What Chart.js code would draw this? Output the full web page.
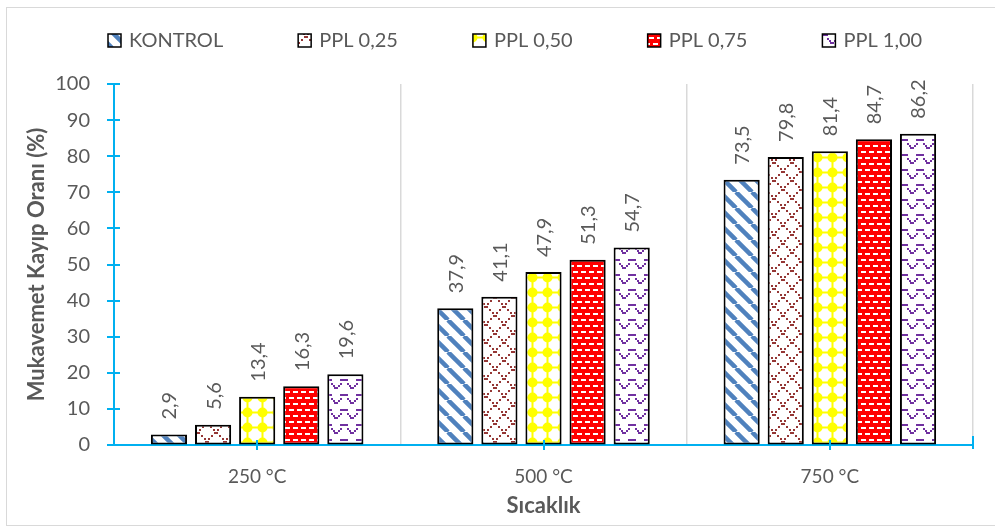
<!DOCTYPE html>
<html>
<head>
<meta charset="utf-8">
<script src="https://cdn.jsdelivr.net/npm/chart.js@4.4.1/dist/chart.umd.min.js"></script>
<style>
  html, body { margin: 0; padding: 0; background: #fff; }
  canvas { display: block; }
</style>
</head>
<body>
<canvas id="kayip" width="995" height="527"></canvas>
<script>
var sicaklik = ["250 °C", "500 °C", "750 °C"];
var kontrol = [2.9, 37.9, 73.5];
var ppl025 = [5.6, 41.1, 79.8];
var ppl050 = [13.4, 47.9, 81.4];
var ppl075 = [16.3, 51.3, 84.7];
var ppl100 = [19.6, 54.7, 86.2];
var yTicks = [0, 10, 20, 30, 40, 50, 60, 70, 80, 90, 100];

var textGray = "#595959";
var axisBlue = "#00b0f0";
var fontName = "Lato";

// small tiles used as fill patterns for the bars
function tile(w, h, draw) {
  var c = document.createElement("canvas");
  c.width = w; c.height = h;
  var g = c.getContext("2d");
  draw(g, w, h);
  return document.getElementById("kayip").getContext("2d").createPattern(c, "repeat");
}

var patStripes = tile(16, 16, function (g, w, h) {
  g.fillStyle = "#fff"; g.fillRect(0, 0, w, h);
  g.strokeStyle = "#4f81bd"; g.lineWidth = 4.5;
  for (var o = -16; o <= 16; o += 16) {
    g.beginPath(); g.moveTo(o, 0); g.lineTo(o + 16, 16); g.stroke();
  }
});

var patDiamond = tile(18, 18, function (g, w, h) {
  g.fillStyle = "#fff"; g.fillRect(0, 0, w, h);
  g.fillStyle = "#953735";
  for (var i = 0; i < 18; i += 3) {
    g.fillRect(i, i, 2, 2);
    g.fillRect(16 - i, i, 2, 2);
  }
});

var patSphere = tile(15, 15, function (g, w, h) {
  g.fillStyle = "#fff"; g.fillRect(0, 0, w, h);
  g.fillStyle = "#ffff00";
  g.fillRect(0, 6.5, w, 2);
  g.fillRect(6.5, 0, 2, h);
  g.beginPath(); g.arc(7.5, 7.5, 5, 0, Math.PI * 2); g.fill();
});

var patDash = tile(16, 12, function (g, w, h) {
  g.fillStyle = "#ff0000"; g.fillRect(0, 0, w, h);
  g.fillStyle = "#fff";
  g.fillRect(1, 1, 5, 2); g.fillRect(9, 1, 5, 2);
  g.fillRect(5, 7, 5, 2); g.fillRect(13, 7, 3, 2); g.fillRect(0, 7, 2, 2);
});

var patZigzag = tile(16, 15, function (g, w, h) {
  g.fillStyle = "#fff"; g.fillRect(0, 0, w, h);
  g.fillStyle = "#7030a0";
  var pts = [[0, 12], [2, 10], [4, 8], [6, 4], [9, 4], [11, 8], [13, 10], [14, 12]];
  pts.forEach(function (p) { g.fillRect(p[0], p[1], 2, 2); });
  g.fillRect(4, 4, 8, 2);
});

var seriesNames = ["KONTROL", "PPL 0,25", "PPL 0,50", "PPL 0,75", "PPL 1,00"];
var seriesData = [kontrol, ppl025, ppl050, ppl075, ppl100];
var seriesFill = [patStripes, patDiamond, patSphere, patDash, patZigzag];

// value labels written upright above each bar
var barLabels = {
  id: "barLabels",
  afterDatasetsDraw: function (chart) {
    var ctx = chart.ctx;
    ctx.save();
    ctx.font = "20px " + fontName;
    ctx.fillStyle = textGray;
    ctx.textAlign = "left";
    ctx.textBaseline = "middle";
    chart.data.datasets.forEach(function (ds, i) {
      chart.getDatasetMeta(i).data.forEach(function (bar, j) {
        ctx.save();
        ctx.translate(bar.x, bar.y - 15);
        ctx.rotate(-Math.PI / 2);
        ctx.fillText(ds.data[j].toFixed(1).replace(".", ","), 0, 1);
        ctx.restore();
      });
    });
    ctx.restore();
  }
};

// tick marks that cross the axis lines
var crossTicks = {
  id: "crossTicks",
  afterDraw: function (chart) {
    var ctx = chart.ctx, a = chart.chartArea;
    var y = chart.scales.y, x = chart.scales.x;
    ctx.save();
    ctx.strokeStyle = axisBlue;
    ctx.lineWidth = 2;
    ctx.beginPath();
    y.ticks.forEach(function (t) {
      var py = Math.round(y.getPixelForValue(t.value));
      ctx.moveTo(a.left - 7, py); ctx.lineTo(a.left + 6, py);
    });
    x.ticks.forEach(function (t, i) {
      var px = Math.round(x.getPixelForTick(i));
      ctx.moveTo(px, a.bottom - 5); ctx.lineTo(px, a.bottom + 5);
    });
    ctx.moveTo(a.right, a.bottom - 9); ctx.lineTo(a.right, a.bottom + 4);
    ctx.stroke();
    ctx.restore();
  }
};

// legend row and outer frame
var topLegend = {
  id: "topLegend",
  afterDraw: function (chart) {
    var ctx = chart.ctx;
    ctx.save();
    ctx.strokeStyle = "#d9d9d9";
    ctx.lineWidth = 1;
    ctx.strokeRect(6.5, 7.5, 1000, 518);
    ctx.font = "20px " + fontName;
    ctx.textBaseline = "middle";
    var x = 108, cy = 40;
    chart.data.datasets.forEach(function (ds) {
      ctx.fillStyle = ds.backgroundColor;
      ctx.fillRect(x, cy - 6, 13, 13);
      ctx.strokeStyle = "#000";
      ctx.lineWidth = 1.5;
      ctx.strokeRect(x, cy - 6, 13, 13);
      ctx.fillStyle = textGray;
      ctx.fillText(ds.label, x + 21, cy + 1);
      x += 21 + ctx.measureText(ds.label).width + 75;
    });
    ctx.restore();
  }
};

new Chart(document.getElementById("kayip"), {
  type: "bar",
  data: {
    labels: sicaklik,
    datasets: seriesNames.map(function (name, i) {
      return {
        label: name,
        data: seriesData[i],
        backgroundColor: seriesFill[i],
        borderColor: "#000",
        borderWidth: 2,
        borderSkipped: false,
        categoryPercentage: 0.77,
        barPercentage: 0.82
      };
    })
  },
  options: {
    responsive: false,
    animation: false,
    devicePixelRatio: 1,
    layout: { padding: { top: 84, right: 22, bottom: 0, left: 0 } },
    plugins: {
      legend: { display: false },
      tooltip: { enabled: false }
    },
    scales: {
      x: {
        offset: true,
        grid: { offset: true, color: "#d9d9d9", lineWidth: 1.5, drawTicks: false },
        border: { color: axisBlue, width: 2 },
        ticks: { color: textGray, font: { family: fontName, size: 19 }, padding: 20 },
        title: {
          display: true, text: "Sıcaklık", color: textGray,
          font: { family: fontName, size: 22, weight: "bold" }, padding: { top: 0, bottom: 8 }
        },
        afterFit: function (s) { s.height = 82; }
      },
      y: {
        min: 0, max: 100,
        afterBuildTicks: function (s) { s.ticks = yTicks.map(function (v) { return { value: v }; }); },
        grid: { drawOnChartArea: false, drawTicks: false },
        border: { color: axisBlue, width: 2 },
        ticks: { color: textGray, font: { family: fontName, size: 20 }, padding: 24 },
        title: {
          display: true, text: "Mukavemet Kayıp Oranı (%)", color: textGray,
          font: { family: fontName, size: 22, weight: "bold" }, padding: { top: 24, bottom: 0 }
        },
        afterFit: function (s) { s.width = 114; }
      }
    }
  },
  plugins: [barLabels, crossTicks, topLegend]
});
</script>
</body>
</html>
